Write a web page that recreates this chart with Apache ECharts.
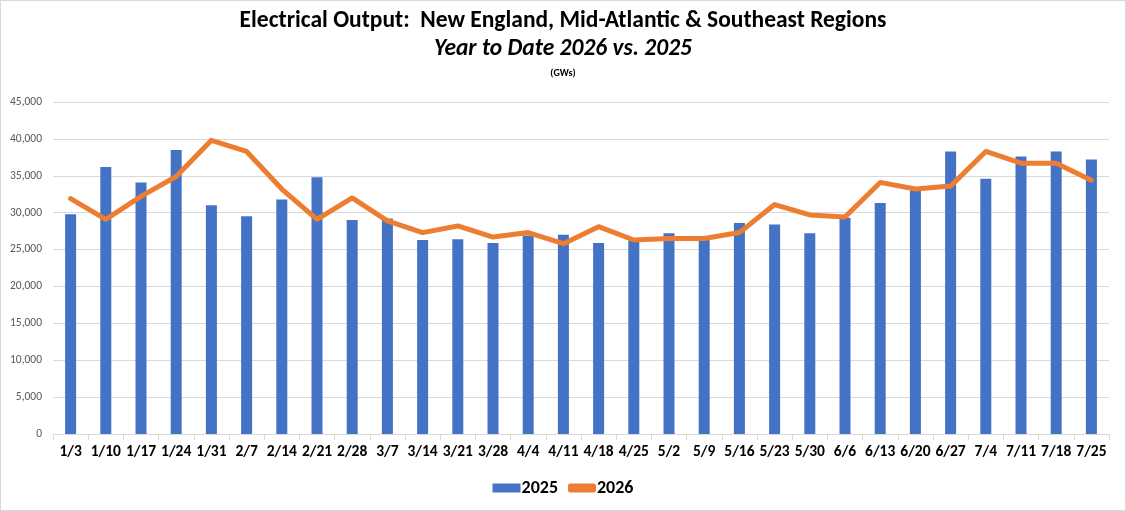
<!DOCTYPE html>
<html>
<head>
<meta charset="utf-8">
<script src="https://cdn.jsdelivr.net/npm/echarts@6/dist/echarts.min.js"></script>
<style>
  html, body { margin: 0; padding: 0; background: #fff; }
  #chart { width: 1124px; height: 509px; border: 1px solid #d9d9d9; }
</style>
</head>
<body>
<div id="chart"></div>
<script>
// week ending dates
const weeks = ['1/3','1/10','1/17','1/24','1/31','2/7','2/14','2/21','2/28','3/7',
  '3/14','3/21','3/28','4/4','4/11','4/18','4/25','5/2','5/9','5/16',
  '5/23','5/30','6/6','6/13','6/20','6/27','7/4','7/11','7/18','7/25'];

// GWs
const output2025 = [29800, 36200, 34100, 38500, 31000, 29500, 31800, 34800, 29000, 29200,
  26300, 26400, 25900, 26900, 27000, 25900, 26200, 27200, 26400, 28600,
  28400, 27200, 29300, 31300, 33000, 38300, 34600, 37600, 38300, 37200];
const output2026 = [31900, 29100, 32200, 34900, 39800, 38300, 33200, 29100, 32000, 28900,
  27300, 28200, 26700, 27300, 25800, 28100, 26300, 26500, 26500, 27300,
  31100, 29700, 29400, 34100, 33200, 33600, 38300, 36700, 36700, 34400];

const yTicks = { min: 0, max: 45000, interval: 5000 };

const font = 'Carlito, Lato, "Open Sans", sans-serif';

const myChart = echarts.init(document.getElementById('chart'));

const option = {
  animation: false,
  textStyle: { fontFamily: font },
  title: [
    {
      text: 'Electrical Output:  New England, Mid-Atlantic & Southeast Regions',
      left: 'center', top: 3,
      textStyle: { fontFamily: font, fontSize: 23.5, fontWeight: 'bold', color: '#000' }
    },
    {
      text: 'Year to Date 2026 vs. 2025',
      left: 'center', top: 32,
      textStyle: { fontFamily: font, fontSize: 23.5, fontWeight: 'bold', fontStyle: 'italic', color: '#000' }
    },
    {
      text: '(GWs)',
      left: 'center', top: 62,
      textStyle: { fontFamily: font, fontSize: 10, fontWeight: 'bold', color: '#000' }
    }
  ],
  legend: {
    bottom: 8,
    left: 'center',
    itemGap: 10,
    itemWidth: 28,
    itemHeight: 9,
    textStyle: { fontFamily: font, fontSize: 18, fontWeight: 'bold', color: '#000', padding: [0, 0, 0, -4] },
    data: [
      { name: '2025', icon: 'rect' },
      { name: '2026', icon: 'roundRect', itemStyle: { color: '#ED7D31' } }
    ]
  },
  grid: { left: 52, right: 16, top: 101, bottom: 76 },
  xAxis: {
    type: 'category',
    data: weeks,
    axisLine: { lineStyle: { color: '#d9d9d9' } },
    axisTick: { show: true, length: 6, lineStyle: { color: '#d9d9d9' } },
    axisLabel: { fontFamily: font, fontSize: 15.5, fontWeight: 'bold', color: '#000', margin: 10, interval: 0 }
  },
  yAxis: {
    type: 'value',
    min: yTicks.min,
    max: yTicks.max,
    interval: yTicks.interval,
    axisLine: { show: false },
    axisTick: { show: false },
    splitLine: { lineStyle: { color: '#d9d9d9' } },
    axisLabel: {
      fontFamily: font, fontSize: 11.5, color: '#595959', margin: 11,
      formatter: v => v.toLocaleString('en-US')
    }
  },
  series: [
    {
      name: '2025',
      type: 'bar',
      data: output2025,
      barWidth: 11,
      itemStyle: { color: '#4472C4' }
    },
    {
      name: '2026',
      type: 'line',
      data: output2026,
      showSymbol: false,
      symbol: 'none',
      lineStyle: { color: '#ED7D31', width: 5, cap: 'round', join: 'round' },
      itemStyle: { color: '#ED7D31' }
    }
  ]
};

myChart.setOption(option);
</script>
</body>
</html>
